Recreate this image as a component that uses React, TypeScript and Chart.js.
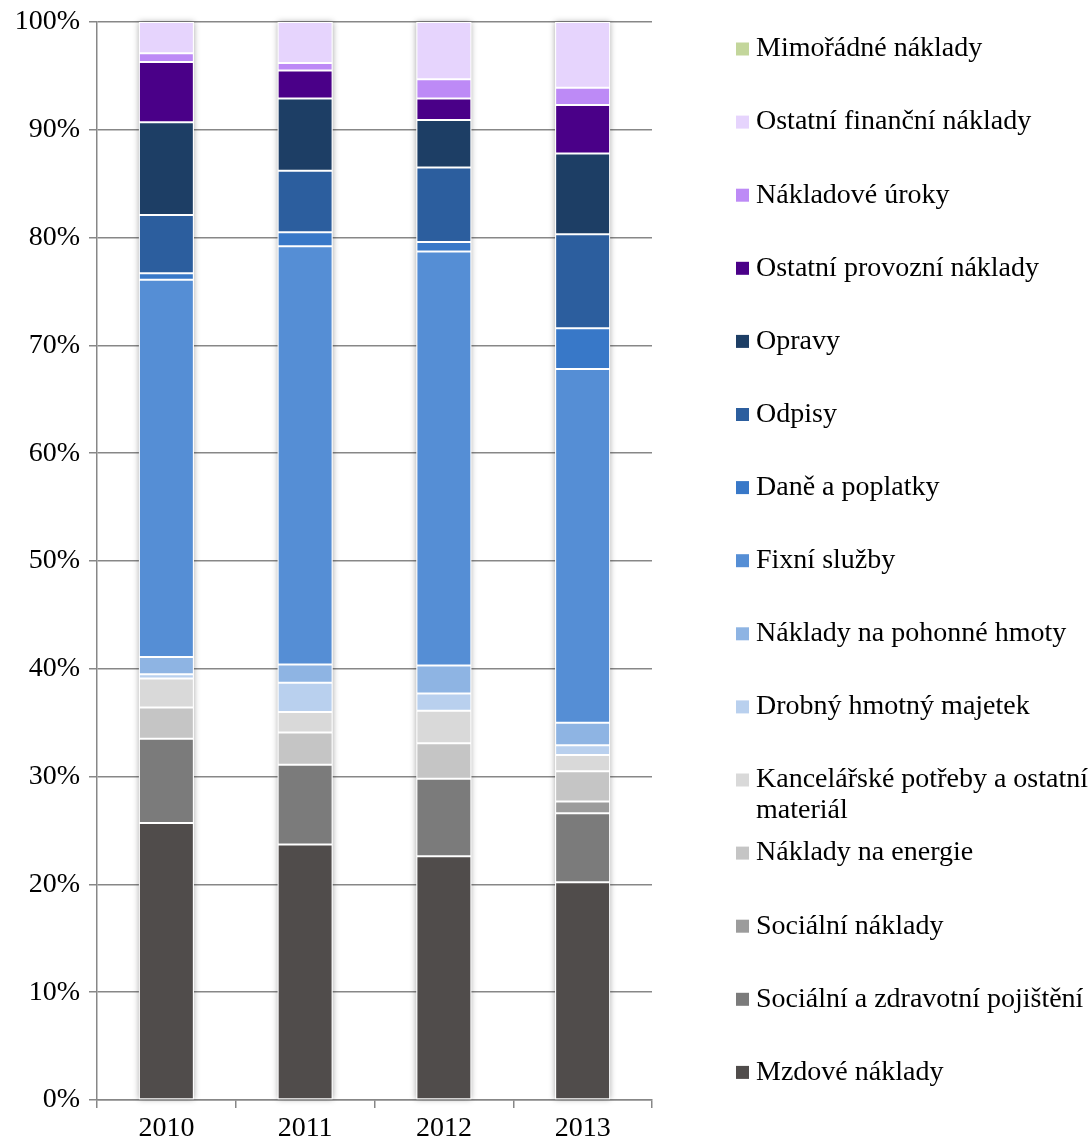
import React, { useEffect, useRef } from "react";
import { Chart, registerables } from "chart.js";

Chart.register(...registerables);

// Cost structure by year, shares in percent (stacked bottom to top)
const years = ["2010", "2011", "2012", "2013"];

const mzdoveNaklady = [25.7, 23.7, 22.6, 20.2];
const socialniAZdravotni = [7.8, 7.4, 7.2, 6.4];
const socialniNaklady = [0, 0, 0, 1.1];
const energie = [2.9, 3.0, 3.3, 2.8];
const kancelarske = [2.7, 1.9, 3.0, 1.5];
const drobnyMajetek = [0.4, 2.7, 1.6, 0.9];
const pohonneHmoty = [1.6, 1.7, 2.6, 2.1];
const fixniSluzby = [35.0, 38.8, 38.4, 32.8];
const daneAPoplatky = [0.6, 1.3, 0.9, 3.8];
const odpisy = [5.4, 5.7, 6.9, 8.7];
const opravy = [8.6, 6.7, 4.4, 7.5];
const ostatniProvozni = [5.6, 2.6, 2.0, 4.5];
const nakladoveUroky = [0.8, 0.7, 1.8, 1.6];
const ostatniFinancni = [2.9, 3.8, 5.3, 6.1];
const mimoradne = [0, 0, 0, 0];

const yTicks = [0, 10, 20, 30, 40, 50, 60, 70, 80, 90, 100];

const series: { label: string; data: number[]; color: string }[] = [
  { label: "Mzdové náklady", data: mzdoveNaklady, color: "#504c4b" },
  { label: "Sociální a zdravotní pojištění", data: socialniAZdravotni, color: "#7b7b7b" },
  { label: "Sociální náklady", data: socialniNaklady, color: "#9c9c9c" },
  { label: "Náklady na energie", data: energie, color: "#c5c5c5" },
  { label: "Kancelářské potřeby a ostatní materiál", data: kancelarske, color: "#d9d9d9" },
  { label: "Drobný hmotný majetek", data: drobnyMajetek, color: "#b9d0ee" },
  { label: "Náklady na pohonné hmoty", data: pohonneHmoty, color: "#8eb4e3" },
  { label: "Fixní služby", data: fixniSluzby, color: "#558ed5" },
  { label: "Daně a poplatky", data: daneAPoplatky, color: "#3878c8" },
  { label: "Odpisy", data: odpisy, color: "#2c5e9e" },
  { label: "Opravy", data: opravy, color: "#1d3e65" },
  { label: "Ostatní provozní náklady", data: ostatniProvozni, color: "#4a0088" },
  { label: "Nákladové úroky", data: nakladoveUroky, color: "#bd8af6" },
  { label: "Ostatní finanční náklady", data: ostatniFinancni, color: "#e6d4fd" },
  { label: "Mimořádné náklady", data: mimoradne, color: "#c3d69b" },
];

const FONT_FAMILY = '"Liberation Serif", "Times New Roman", serif';
const FONT_SIZE = 28;
const GRID = "#878787";

// Soft shadow behind each whole stacked column
const columnShadow = {
  id: "columnShadow",
  beforeDatasetsDraw(chart: any) {
    const ctx = chart.ctx;
    const first = chart.getDatasetMeta(0);
    const last = chart.getDatasetMeta(chart.data.datasets.length - 1);
    ctx.save();
    ctx.shadowColor = "rgba(0,0,0,0.35)";
    ctx.shadowBlur = 6;
    ctx.shadowOffsetX = 0;
    ctx.shadowOffsetY = 0;
    ctx.fillStyle = "#ffffff";
    first.data.forEach((bar: any, i: number) => {
      const top = last.data[i];
      const w = bar.width;
      const x0 = bar.x - w / 2;
      const yTop = top.y;
      const yBottom = bar.base;
      ctx.fillRect(x0, yTop, w, yBottom - yTop);
    });
    ctx.restore();
  },
};

// Right-hand legend, last series on top, long labels wrapped
const sideLegend = {
  id: "sideLegend",
  afterDraw(chart: any) {
    const ctx = chart.ctx;
    const ds = chart.data.datasets;
    const boxX = 736;
    const textX = 756;
    const startY = 49;
    const step = 73.1;
    const lineH = 31;
    const maxW = 345;
    ctx.save();
    ctx.font = `${FONT_SIZE}px ${FONT_FAMILY}`;
    ctx.textBaseline = "middle";
    ctx.textAlign = "left";
    for (let k = 0; k < ds.length; k++) {
      const d = ds[ds.length - 1 - k];
      const cy = startY + k * step;
      ctx.fillStyle = d.backgroundColor;
      ctx.fillRect(boxX, cy - 6.5, 13, 13);
      const words = String(d.label).split(" ");
      const lines: string[] = [];
      let cur = "";
      for (const w of words) {
        const test = cur ? cur + " " + w : w;
        if (ctx.measureText(test).width > maxW && cur) {
          lines.push(cur);
          cur = w;
        } else {
          cur = test;
        }
      }
      if (cur) lines.push(cur);
      ctx.fillStyle = "#000000";
      lines.forEach((ln, j) => ctx.fillText(ln, textX, cy + j * lineH));
    }
    ctx.restore();
  },
};

export default function App() {
  const ref = useRef<HTMLCanvasElement | null>(null);

  useEffect(() => {
    document.body.style.margin = "0";
    const canvas = ref.current;
    if (!canvas) return;
    const chart = new Chart(canvas, {
      type: "bar",
      data: {
        labels: years,
        datasets: series.map((s) => ({
          label: s.label,
          data: s.data,
          backgroundColor: s.color,
          borderColor: "#ffffff",
          borderWidth: 1,
          borderSkipped: false,
          barPercentage: 0.396,
          categoryPercentage: 1,
        })),
      },
      options: {
        animation: false,
        responsive: false,
        maintainAspectRatio: false,
        layout: { padding: { left: 0, top: 22, right: 439, bottom: 0 } },
        plugins: {
          legend: { display: false },
          tooltip: { enabled: false },
        },
        scales: {
          x: {
            stacked: true,
            offset: true,
            grid: {
              offset: true,
              drawOnChartArea: false,
              drawTicks: true,
              tickLength: 8,
              color: GRID,
              lineWidth: 1.5,
            },
            border: { color: GRID, width: 1.5 },
            ticks: {
              color: "#000000",
              padding: 4,
              font: { family: FONT_FAMILY, size: FONT_SIZE },
            },
            afterFit(scale: any) {
              scale.height = 42;
              scale.paddingLeft = 0;
              scale.paddingRight = 0;
            },
          },
          y: {
            stacked: true,
            min: 0,
            max: 100,
            afterBuildTicks(scale: any) {
              scale.ticks = yTicks.map((v) => ({ value: v }));
            },
            grid: {
              color: GRID,
              lineWidth: 1.5,
              drawTicks: true,
              tickLength: 8,
            },
            border: { color: GRID, width: 1.5 },
            ticks: {
              color: "#000000",
              padding: 9,
              font: { family: FONT_FAMILY, size: FONT_SIZE },
              callback: (v: any) => `${v}%`,
            },
            afterFit(scale: any) {
              scale.width = 97;
              scale.paddingTop = 0;
              scale.paddingBottom = 0;
            },
          },
        },
      },
      plugins: [columnShadow, sideLegend],
    });
    return () => chart.destroy();
  }, []);

  return (
    <canvas
      ref={ref}
      width={1091}
      height={1142}
      style={{ display: "block", width: "1091px", height: "1142px" }}
    />
  );
}
